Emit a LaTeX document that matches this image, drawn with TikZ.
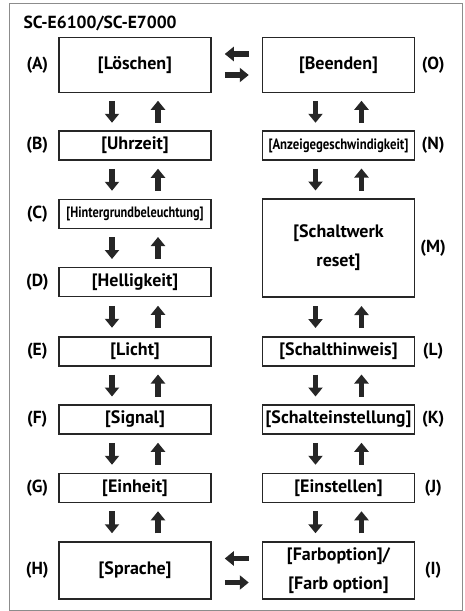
\documentclass[tikz,border=0pt]{standalone}
\usepackage{fontspec}
\setmainfont{PT Sans}
\usetikzlibrary{arrows.meta,calc}

\begin{document}
\begin{tikzpicture}[x=1pt, y=-1pt,
    box/.style={draw=black!85, line width=1.4pt, minimum width=152pt, minimum height=29pt,
                inner sep=1pt, align=center, font=\fontsize{18}{29}\selectfont\bfseries},
    tall/.style={box, minimum height=55pt},
    lab/.style={font=\fontsize{17.5}{20}\selectfont\bfseries},
    small/.style={font=\fontsize{15}{16}\selectfont\bfseries},
    arr/.style={-{Triangle[length=9pt,width=14pt]}, line width=5.5pt, black!85}
  ]
  \useasboundingbox (0,0) rectangle (465,611);
  \draw[black!45, line width=1pt] (9,3) rectangle (462,610);
  \node[lab, anchor=west] (title) at (20,23) {SC-E6100/SC-E7000};

  % left column
  \node[tall] (A) at (135,65) {[Löschen]};
  \node[box] (B) at (135,145.5) {[Uhrzeit]};
  \node[box, small] (C) at (135,214) {\scalebox{0.82}[1]{[Hintergrundbeleuchtung]}};
  \node[box] (D) at (135,282) {[Helligkeit]};
  \node[box] (E) at (135,351.5) {[Licht]};
  \node[box] (F) at (135,419.5) {[Signal]};
  \node[box] (G) at (135,488) {[Einheit]};
  \node[tall, minimum height=57pt] (H) at (135,570.5) {[Sprache]};

  % right column
  \node[tall] (O) at (338.5,65) {[Beenden]};
  \node[box, small] (N) at (338.5,145.5) {\scalebox{0.85}[1]{[Anzeigegeschwindigkeit]}};
  \node[box, minimum height=98pt] (M) at (338.5,248) {[Schaltwerk\\reset]};
  \node[box] (L) at (338.5,351.5) {[Schalthinweis]};
  \node[box] (K) at (338.5,419.5) {[Schalteinstellung]};
  \node[box] (J) at (338.5,488) {[Einstellen]};
  \node[tall, minimum height=57pt] (I) at (338.5,570.5) {[Farboption]/\\{}[Farb option]};

  % letters
  \foreach \n in {A,B,C,D,E,F,G,H}
    \node[lab] (lab\n) at ($(\n.west)+(-21,0)$) {(\n)};
  \foreach \n in {O,N,M,L,K,J,I}
    \node[lab] (lab\n) at ($(\n.east)+(18,0)$) {(\n)};

  % up and down
  \foreach \a/\b in {A/B,B/C,C/D,D/E,E/F,F/G,G/H,O/N,N/M,M/L,L/K,K/J,J/I} {
    \draw[arr] ($(\a.south)!0.5!(\b.north)+(-23,-11)$) -- ++(0,22);
    \draw[arr] ($(\a.south)!0.5!(\b.north)+(23,11)$) -- ++(0,-22);
  }

  % across
  \draw[arr] ($(A.east)!0.5!(O.west)+(12,-11)$) -- ++(-24,0);
  \draw[arr] ($(A.east)!0.5!(O.west)+(-12,10)$) -- ++(24,0);
  \draw[arr] ($(H.east)!0.5!(I.west)+(12,-12)$) -- ++(-24,0);
  \draw[arr] ($(H.east)!0.5!(I.west)+(-12,12)$) -- ++(24,0);
\end{tikzpicture}
\end{document}
